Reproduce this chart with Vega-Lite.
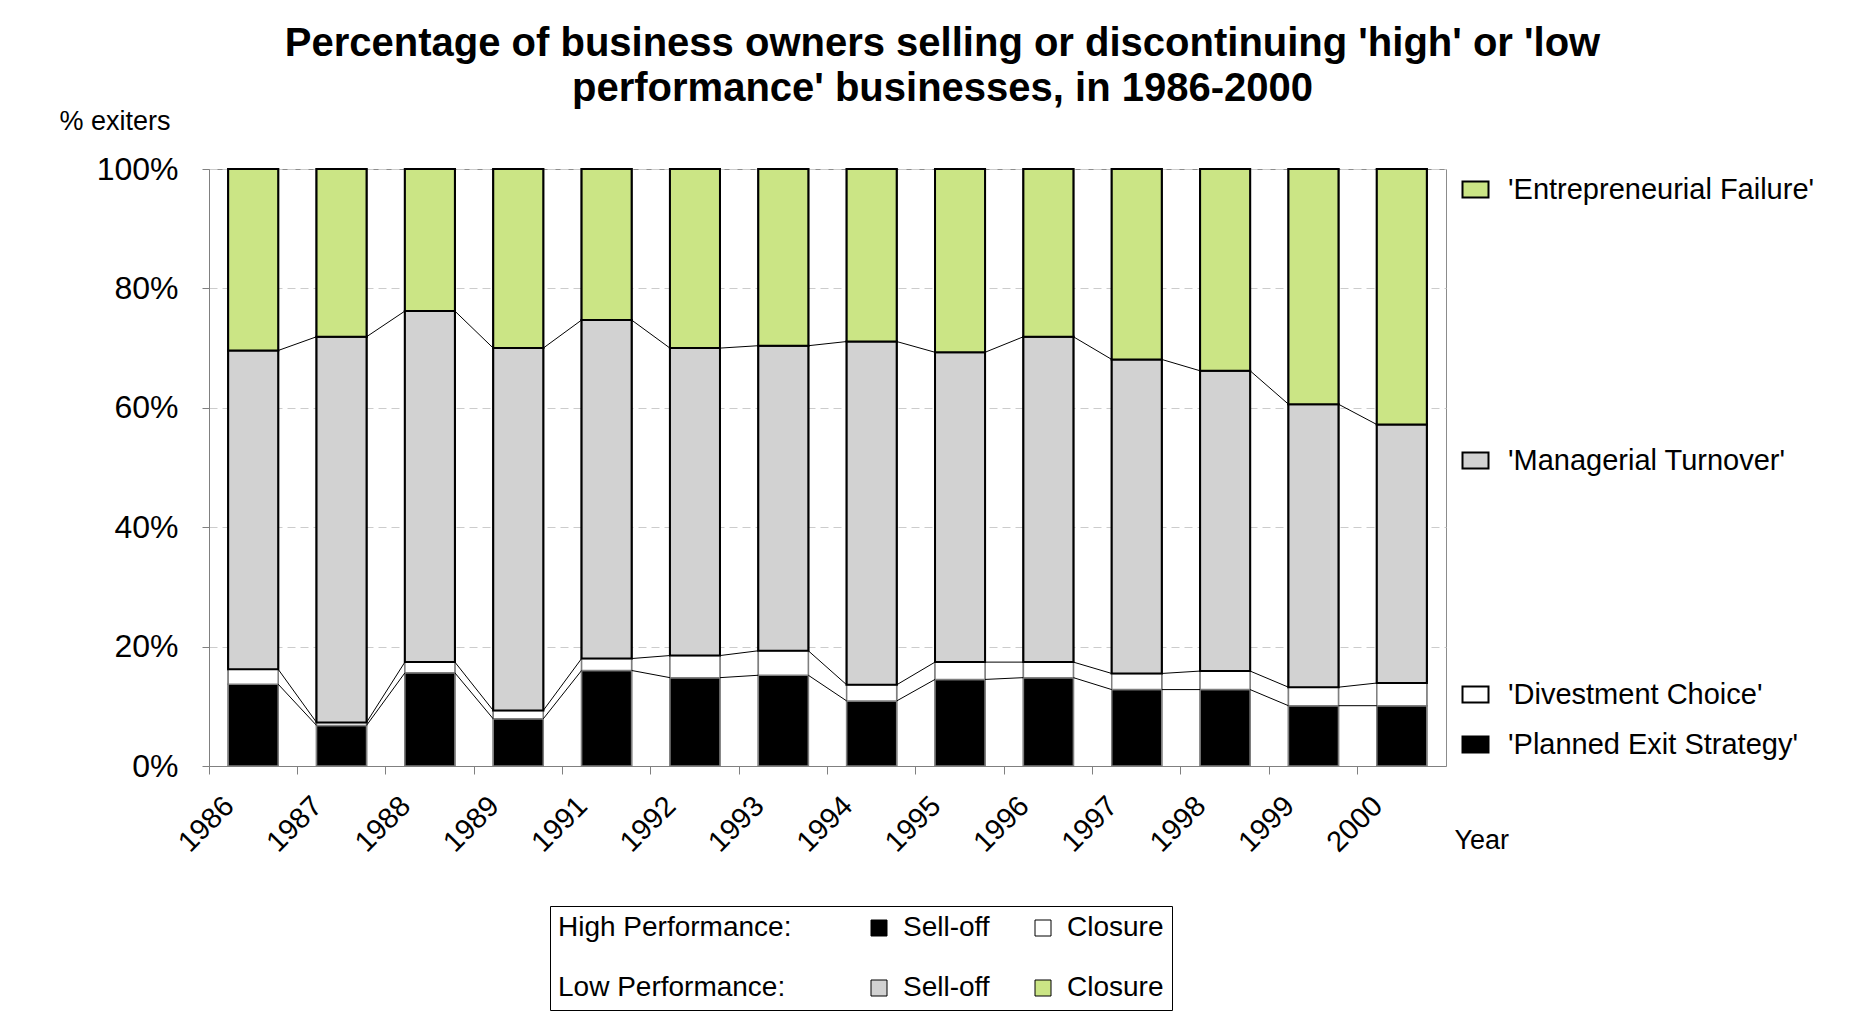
{
  "$schema": "https://vega.github.io/schema/vega-lite/v6.json",
  "autosize": "none",
  "padding": {"left": 209, "top": 169, "right": 417, "bottom": 261},
  "width": 1237,
  "height": 597,
  "background": "white",
  "title": {
    "text": ["Percentage of business owners selling or discontinuing 'high' or 'low", "performance' businesses,  in 1986-2000"],
    "fontSize": 40, "fontWeight": "bold", "font": "Liberation Sans", "color": "black",
    "anchor": "middle", "frame": "group", "dx": 115, "offset": -2, "lineHeight": 45
  },
  "datasets": {
    "shares": [
      {"year": "1986", "Planned Exit Strategy": 13.7, "Divestment Choice": 2.5, "Managerial Turnover": 53.4, "Entrepreneurial Failure": 30.4},
      {"year": "1987", "Planned Exit Strategy": 6.8, "Divestment Choice": 0.5, "Managerial Turnover": 64.6, "Entrepreneurial Failure": 28.1},
      {"year": "1988", "Planned Exit Strategy": 15.6, "Divestment Choice": 1.8, "Managerial Turnover": 58.8, "Entrepreneurial Failure": 23.8},
      {"year": "1989", "Planned Exit Strategy": 7.9, "Divestment Choice": 1.4, "Managerial Turnover": 60.7, "Entrepreneurial Failure": 30.0},
      {"year": "1991", "Planned Exit Strategy": 16.0, "Divestment Choice": 2.0, "Managerial Turnover": 56.7, "Entrepreneurial Failure": 25.3},
      {"year": "1992", "Planned Exit Strategy": 14.8, "Divestment Choice": 3.7, "Managerial Turnover": 51.5, "Entrepreneurial Failure": 30.0},
      {"year": "1993", "Planned Exit Strategy": 15.2, "Divestment Choice": 4.1, "Managerial Turnover": 51.1, "Entrepreneurial Failure": 29.6},
      {"year": "1994", "Planned Exit Strategy": 10.9, "Divestment Choice": 2.7, "Managerial Turnover": 57.5, "Entrepreneurial Failure": 28.9},
      {"year": "1995", "Planned Exit Strategy": 14.5, "Divestment Choice": 2.9, "Managerial Turnover": 51.9, "Entrepreneurial Failure": 30.7},
      {"year": "1996", "Planned Exit Strategy": 14.8, "Divestment Choice": 2.6, "Managerial Turnover": 54.5, "Entrepreneurial Failure": 28.1},
      {"year": "1997", "Planned Exit Strategy": 12.8, "Divestment Choice": 2.7, "Managerial Turnover": 52.6, "Entrepreneurial Failure": 31.9},
      {"year": "1998", "Planned Exit Strategy": 12.8, "Divestment Choice": 3.1, "Managerial Turnover": 50.3, "Entrepreneurial Failure": 33.8},
      {"year": "1999", "Planned Exit Strategy": 10.1, "Divestment Choice": 3.1, "Managerial Turnover": 47.4, "Entrepreneurial Failure": 39.4},
      {"year": "2000", "Planned Exit Strategy": 10.1, "Divestment Choice": 3.8, "Managerial Turnover": 43.3, "Entrepreneurial Failure": 42.8}
    ],
    "seriesInfo": [
      {"series": "Planned Exit Strategy", "performance": "High", "exit": "Sell-off"},
      {"series": "Divestment Choice", "performance": "High", "exit": "Closure"},
      {"series": "Managerial Turnover", "performance": "Low", "exit": "Sell-off"},
      {"series": "Entrepreneurial Failure", "performance": "Low", "exit": "Closure"}
    ]
  },
  "data": {"name": "shares"},
  "transform": [
    {"fold": ["Planned Exit Strategy", "Divestment Choice", "Managerial Turnover", "Entrepreneurial Failure"], "as": ["series", "value"]},
    {"lookup": "series", "from": {"data": {"name": "seriesInfo"}, "key": "series", "fields": ["performance", "exit"]}},
    {"stack": "value", "groupby": ["year"], "sort": [{"field": "performance", "order": "ascending"}, {"field": "exit", "order": "descending"}], "as": ["y0", "y1"]}
  ],
  "encoding": {
    "x": {
      "field": "year", "type": "nominal", "sort": "ascending",
      "scale": {"paddingInner": 0, "paddingOuter": 0},
      "axis": {
        "title": "Year", "bandPosition": 0, "labelAngle": -45, "labelAlign": "right", "labelBaseline": "middle",
        "labelFontSize": 29, "labelColor": "black", "labelOffset": -24, "labelPadding": 27,
        "tickSize": 8, "tickColor": "#808080", "domainColor": "#808080", "grid": false,
        "titleX": 1245, "titleY": 74, "titleAlign": "left", "titleBaseline": "middle",
        "titleFontSize": 27, "titleFontWeight": "normal", "titleColor": "black"
      }
    },
    "y": {
      "field": "y0", "type": "quantitative", "scale": {"domain": [0, 100], "nice": false},
      "axis": {
        "title": "% exiters", "values": [0, 20, 40, 60, 80, 100], "labelExpr": "datum.value + '%'",
        "labelFontSize": 32, "labelColor": "black", "labelPadding": 24, "tickSize": 7,
        "tickColor": "#808080", "domainColor": "#808080", "grid": true, "gridColor": "#cccccc", "gridDash": [8, 5],
        "titleAngle": 0, "titleX": -150, "titleY": -48, "titleAlign": "left", "titleBaseline": "middle",
        "titleFontSize": 27, "titleFontWeight": "normal", "titleColor": "black"
      }
    },
    "y2": {"field": "y1"}
  },
  "layer": [
    {
      "transform": [{"filter": {"field": "series", "oneOf": ["Planned Exit Strategy", "Divestment Choice"]}}],
      "mark": {"type": "bar", "width": {"band": 0.566}, "stroke": "#7f7f7f", "strokeWidth": 1.5},
      "encoding": {
        "fill": {
          "field": "series", "type": "nominal",
          "scale": {"domain": ["Divestment Choice", "Planned Exit Strategy"], "range": ["white", "black"]},
          "legend": {
            "orient": "none", "legendX": 1252, "legendY": 511, "title": null,
            "symbolType": "M-1,-0.615H1V0.615H-1Z", "symbolSize": 676, "symbolStrokeColor": "black", "symbolStrokeWidth": 2,
            "labelExpr": "\"'\" + datum.label + \"'\"", "labelFontSize": 29, "labelColor": "black", "labelOffset": 18, "labelLimit": 600,
            "rowPadding": 20
          }
        }
      }
    },
    {
      "transform": [{"filter": {"field": "series", "equal": "Managerial Turnover"}}],
      "mark": {"type": "bar", "width": {"band": 0.566}, "stroke": "black", "strokeWidth": 2},
      "encoding": {
        "fill": {
          "field": "series", "type": "nominal",
          "scale": {"domain": ["Managerial Turnover"], "range": ["#d2d2d2"]},
          "legend": {
            "orient": "none", "legendX": 1252, "legendY": 277, "title": null,
            "symbolType": "M-1,-0.615H1V0.615H-1Z", "symbolSize": 676, "symbolStrokeColor": "black", "symbolStrokeWidth": 2,
            "labelExpr": "\"'\" + datum.label + \"'\"", "labelFontSize": 29, "labelColor": "black", "labelOffset": 18, "labelLimit": 600
          }
        }
      }
    },
    {
      "transform": [{"filter": {"field": "series", "equal": "Entrepreneurial Failure"}}],
      "mark": {"type": "bar", "width": {"band": 0.566}, "stroke": "black", "strokeWidth": 2},
      "encoding": {
        "fill": {
          "field": "series", "type": "nominal",
          "scale": {"domain": ["Entrepreneurial Failure"], "range": ["#cbe585"]},
          "legend": {
            "orient": "none", "legendX": 1252, "legendY": 6, "title": null,
            "symbolType": "M-1,-0.615H1V0.615H-1Z", "symbolSize": 676, "symbolStrokeColor": "black", "symbolStrokeWidth": 2,
            "labelExpr": "\"'\" + datum.label + \"'\"", "labelFontSize": 29, "labelColor": "black", "labelOffset": 18, "labelLimit": 600
          }
        }
      }
    },
    {
      "mark": {"type": "bar", "width": {"band": 0.566}},
      "encoding": {
        "stroke": {"field": "performance", "type": "nominal", "scale": {"domain": ["High", "Low"], "range": ["#7f7f7f", "black"]}, "legend": null},
        "strokeWidth": {"field": "performance", "type": "nominal", "scale": {"domain": ["High", "Low"], "range": [1.5, 2]}, "legend": null},
        "fill": {
          "field": "series", "type": "nominal",
          "scale": {"domain": ["Planned Exit Strategy", "Divestment Choice", "Managerial Turnover", "Entrepreneurial Failure"], "range": ["black", "white", "#d2d2d2", "#cbe585"]},
          "legend": {
            "orient": "none", "legendX": 341, "legendY": 737, "direction": "horizontal", "columns": 2,
            "title": ["High Performance:", "Low  Performance:"], "titleOrient": "left", "titleAnchor": "start",
            "titleBaseline": "top", "titleLineHeight": 60, "titleFontSize": 28, "titleFontWeight": "normal", "titleColor": "black",
            "titlePadding": 72, "titleLimit": 600,
            "symbolType": "square", "symbolSize": 256, "symbolStrokeColor": "black", "symbolStrokeWidth": 1,
            "labelExpr": "indexof(datum.label, 'Exit') >= 0 || indexof(datum.label, 'Managerial') >= 0 ? 'Sell-off' : 'Closure'",
            "labelFontSize": 28, "labelColor": "black", "labelOffset": 10, "labelLimit": 600,
            "rowPadding": 32, "columnPadding": 39, "padding": 8, "strokeColor": "black", "fillColor": "white"
          }
        }
      }
    },
    {
      "transform": [
        {"filter": {"not": {"field": "series", "equal": "Entrepreneurial Failure"}}},
        {"window": [{"op": "lead", "field": "year", "as": "nextYear"}, {"op": "lead", "field": "y1", "as": "nextTop"}], "groupby": ["series"], "sort": [{"field": "year"}]},
        {"filter": "datum.nextYear != null"}
      ],
      "mark": {"type": "rule", "color": "black", "strokeWidth": 1},
      "encoding": {
        "x": {"field": "year", "type": "nominal", "bandPosition": 0.783},
        "x2": {"field": "nextYear", "bandPosition": 0.217},
        "y": {"field": "y1", "type": "quantitative"},
        "y2": {"field": "nextTop"}
      }
    }
  ],
  "resolve": {"scale": {"fill": "independent"}, "legend": {"fill": "independent"}},
  "config": {
    "font": "Liberation Sans",
    "view": {"stroke": "#8c8c8c", "strokeWidth": 1}
  }
}
